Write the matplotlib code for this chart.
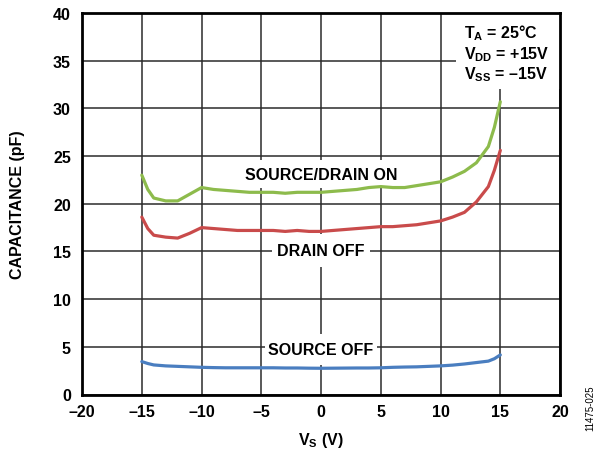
import matplotlib
matplotlib.use("Agg")
import matplotlib.pyplot as plt
from matplotlib.path import Path
from matplotlib.ticker import FuncFormatter

plt.rcParams["font.family"] = ["Liberation Sans", "DejaVu Sans"]
plt.rcParams["font.weight"] = "bold"
plt.rcParams["mathtext.fontset"] = "custom"
plt.rcParams["mathtext.rm"] = "Liberation Sans:bold"
plt.rcParams["mathtext.it"] = "Liberation Sans:bold"
plt.rcParams["mathtext.bf"] = "Liberation Sans:bold"

# Source voltage sweep (V)
vs = [-15, -14.5, -14, -13, -12, -11, -10, -9, -8, -7, -6, -5, -4, -3, -2, -1,
      0, 1, 2, 3, 4, 5, 6, 7, 8, 9, 10, 11, 12, 13, 14, 14.5, 15]

# Capacitance (pF)
c_on = [23.0, 21.5, 20.6, 20.3, 20.3, 21.0, 21.7, 21.5, 21.4, 21.3, 21.2, 21.2,
        21.2, 21.1, 21.2, 21.2, 21.2, 21.3, 21.4, 21.5, 21.7, 21.8, 21.7, 21.7,
        21.9, 22.1, 22.3, 22.8, 23.4, 24.3, 26.0, 28.0, 30.7]
c_drain_off = [18.6, 17.4, 16.7, 16.5, 16.4, 16.9, 17.5, 17.4, 17.3, 17.2, 17.2,
               17.2, 17.2, 17.1, 17.2, 17.1, 17.1, 17.2, 17.3, 17.4, 17.5, 17.6,
               17.6, 17.7, 17.8, 18.0, 18.2, 18.6, 19.1, 20.2, 21.8, 23.5, 25.6]
c_source_off = [3.45, 3.25, 3.1, 3.0, 2.95, 2.9, 2.85, 2.82, 2.8, 2.8, 2.8, 2.8,
                2.8, 2.78, 2.78, 2.76, 2.75, 2.76, 2.77, 2.78, 2.78, 2.8, 2.85,
                2.88, 2.9, 2.95, 3.0, 3.08, 3.2, 3.35, 3.5, 3.75, 4.15]

x_ticks = [-20, -15, -10, -5, 0, 5, 10, 15, 20]
y_ticks = [0, 5, 10, 15, 20, 25, 30, 35, 40]

GREEN = "#8dbb4c"
RED = "#c94b4b"
BLUE = "#4a7ec0"
GRID = "#2b2b2b"
FS = 11.5


def padded_box(left, right, bottom, top):
    """Rectangular text box with independent padding on each side."""
    def style(x0, y0, width, height, mutation_size):
        xa = x0 - left * mutation_size
        xb = x0 + width + right * mutation_size
        ya = y0 - bottom * mutation_size
        yb = y0 + height + top * mutation_size
        return Path([(xa, ya), (xb, ya), (xb, yb), (xa, yb), (xa, ya)],
                    closed=True)
    return style


fig = plt.figure(figsize=(5.99, 4.52), dpi=100)
ax = fig.add_axes([0.137, 0.125, 0.798, 0.844])
ax.set_axisbelow(True)

for series, color in ((c_on, GREEN), (c_drain_off, RED), (c_source_off, BLUE)):
    ax.plot(vs, series, color=color, lw=2.3, zorder=2, solid_capstyle="round")

ax.set_xlim(-20, 20)
ax.set_ylim(0, 40)
ax.set_xticks(x_ticks)
ax.set_yticks(y_ticks)
dash = FuncFormatter(lambda v, p: f"{v:g}".replace("-", "\u2013"))
ax.xaxis.set_major_formatter(dash)
ax.yaxis.set_major_formatter(dash)
ax.tick_params(length=0, labelsize=FS, pad=7)
ax.tick_params(axis="y", pad=8)
ax.grid(True, color=GRID, lw=1.1)
for s in ax.spines.values():
    s.set_linewidth(2.0)
    s.set_color("black")
    s.set_zorder(2.6)

ax.set_xlabel("V$_S$ (V)", fontsize=FS, fontweight="bold", labelpad=8)
ax.set_ylabel("CAPACITANCE (pF)", fontsize=FS, fontweight="bold", labelpad=20)

# Curve labels sit on white boxes that break the grid but stay under the curves
lab = dict(ha="center", va="center", fontsize=FS, fontweight="bold", zorder=1.5)
ax.text(0, 23.1, "SOURCE/DRAIN ON",
        bbox=dict(boxstyle=padded_box(0.3, 0.3, 0.4, 0.45), fc="white", ec="none"),
        **lab)
ax.text(0, 15.07, "DRAIN OFF",
        bbox=dict(boxstyle=padded_box(0.33, 0.33, 0.55, 0.55), fc="white", ec="none"),
        **lab)
ax.text(0, 4.67, "SOURCE OFF",
        bbox=dict(boxstyle=padded_box(0.2, 0.2, 0.5, 0.5), fc="white", ec="none"),
        **lab)

ax.text(12.0, 39.0, "T$_A$ = 25°C\nV$_{DD}$ = +15V\nV$_{SS}$ = \u201315V",
        ha="left", va="top", fontsize=FS, fontweight="bold", linespacing=1.12,
        zorder=1.5, clip_on=True,
        bbox=dict(boxstyle=padded_box(0.55, 1.0, 0.4, 1.0), fc="white", ec="none"))

fig.text(0.985, 0.097, "11475-025", rotation=90, ha="center", va="center",
         fontsize=7, fontweight="normal")

fig.savefig("out.png", dpi=100)
